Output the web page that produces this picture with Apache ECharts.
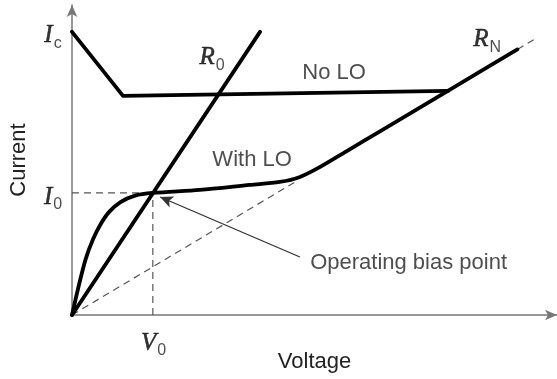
<!DOCTYPE html>
<html>
<head>
<meta charset="utf-8">
<script src="https://cdn.jsdelivr.net/npm/echarts@6/dist/echarts.min.js"></script>
<style>
html,body{margin:0;padding:0;background:#fff;}
#chart{width:557px;height:379px;}
</style>
</head>
<body>
<div id="chart"></div>
<script>
// ---- data (normalised units: V0 = 1, I0 = 1) ----
var noLoCurve = [[0, 2.32], [0.631, 1.795], [4.652, 1.836]];
var r0Line = [[0, 0], [2.326, 2.32]];
var withLoCurve = [
  [0, 0], [0.08, 0.23], [0.17, 0.46], [0.26, 0.62], [0.35, 0.74], [0.46, 0.845], [0.6, 0.925],
  [0.78, 0.978], [1.0, 1.0], [1.58, 1.025], [2.2, 1.066], [2.57, 1.09], [2.82, 1.131],
  [3.07, 1.213], [3.4, 1.343], [3.81, 1.505], [4.64, 1.833], [5.51, 2.176]
];
var rnDashLow = [[0, 0], [2.75, 1.086]];
var rnDashHigh = [[5.51, 2.176], [5.73, 2.263]];
var i0Guide = [[0, 1], [1, 1]];
var v0Guide = [[1, 0], [1, 1]];

var symLabels = [
  {text: '{it|I}{sub|c}', at: [-0.235, 2.287]},
  {text: '{it|I}{sub|0}', at: [-0.235, 0.967]},
  {text: '{it|V}{sub|0}', at: [1.01, -0.23]},
  {text: '{it|R}{sub|0}', at: [1.733, 2.107]},
  {text: '{it|R}{sub|N}', at: [5.136, 2.254]}
];
var textLabels = [
  {text: 'No LO', at: [3.243, 1.984], align: 'center'},
  {text: 'With LO', at: [2.228, 1.27], align: 'center'},
  {text: 'Operating bias point', at: [2.946, 0.426], align: 'left'}
];
var arrowFrom = [2.82, 0.475];
var arrowTo = [1.09, 0.967];
var xName = 'Voltage';
var yName = 'Current';

var chart = echarts.init(document.getElementById('chart'), null, {renderer: 'canvas'});

var rich = {
  it: {fontFamily: 'Liberation Serif', fontStyle: 'italic', fontSize: 25, color: '#000', lineHeight: 26,
       textBorderColor: '#000', textBorderWidth: 0.5},
  sub: {fontFamily: 'Liberation Sans', fontSize: 16, color: '#222', verticalAlign: 'bottom', lineHeight: 16, padding: [0, 0, -3, 1]}
};

function solid(data, z) {
  return {type: 'line', data: data, symbol: 'none', smooth: false, z: z || 3,
    lineStyle: {color: '#000', width: 3.8, cap: 'round', join: 'round'}, silent: true};
}
function dashed(data) {
  return {type: 'line', data: data, symbol: 'none', z: 2,
    lineStyle: {color: '#555', width: 1.2, type: [7, 5]}, silent: true};
}

var labelData = [];
symLabels.forEach(function (l) {
  labelData.push({value: l.at, label: {formatter: l.text, rich: rich, position: 'inside', align: 'center'}});
});
textLabels.forEach(function (l) {
  labelData.push({value: l.at, label: {formatter: l.text, position: l.align === 'left' ? 'right' : 'inside',
    distance: 0, align: l.align, fontFamily: 'Liberation Sans', fontSize: 22, color: '#222'}});
});

var option = {
  animation: false,
  backgroundColor: '#fff',
  grid: {left: 72, right: 0, top: 5, bottom: 64},
  xAxis: {
    type: 'value', min: 0, max: 6,
    name: xName, nameLocation: 'middle', nameGap: 36,
    nameTextStyle: {fontFamily: 'Liberation Sans', fontSize: 22, color: '#222'},
    axisLine: {show: true, lineStyle: {color: '#777', width: 1.5}, symbol: ['none', 'arrow'], symbolSize: [8, 12]},
    axisTick: {show: false}, axisLabel: {show: false}, splitLine: {show: false}
  },
  yAxis: {
    type: 'value', min: 0, max: 2.54,
    name: yName, nameLocation: 'middle', nameGap: 42, nameRotate: 90,
    nameTextStyle: {fontFamily: 'Liberation Sans', fontSize: 22, color: '#222'},
    axisLine: {show: true, lineStyle: {color: '#777', width: 1.5}, symbol: ['none', 'arrow'], symbolSize: [8, 12]},
    axisTick: {show: false}, axisLabel: {show: false}, splitLine: {show: false}
  },
  series: [
    dashed(rnDashLow),
    dashed(rnDashHigh),
    dashed(i0Guide),
    dashed(v0Guide),
    solid(noLoCurve),
    solid(r0Line),
    Object.assign(solid(withLoCurve), {smooth: 0.3}),
    {
      type: 'scatter', data: labelData, symbolSize: 0, clip: false, z: 5, silent: true,
      label: {show: true},
      markLine: {
        silent: true, symbol: ['none', 'arrow'], symbolSize: [9, 13],
        lineStyle: {color: '#333', width: 1.3, type: 'solid'},
        label: {show: false},
        data: [[{coord: arrowFrom}, {coord: arrowTo}]]
      }
    }
  ]
};
chart.setOption(option);
</script>
</body>
</html>
